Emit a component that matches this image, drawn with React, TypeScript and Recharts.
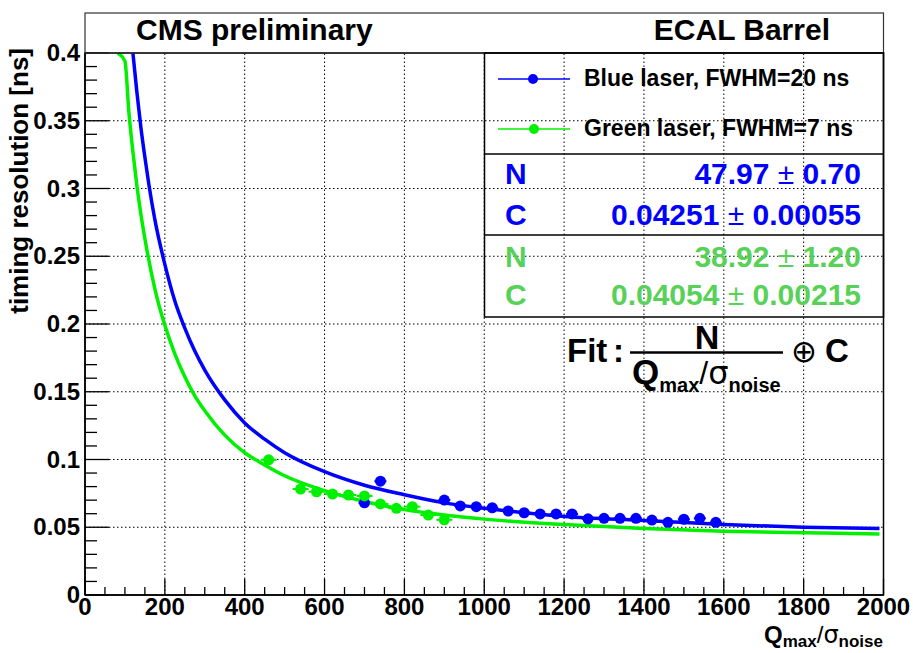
import React from 'react';
import { ComposedChart, Line, Scatter, ErrorBar, XAxis, YAxis, ReferenceLine } from 'recharts';

// measured points (Q/sigma, resolution in ns)
const blueX = [700, 740, 900, 940, 980, 1020, 1060, 1100, 1140, 1180, 1220, 1260, 1300, 1340, 1380, 1420, 1460, 1500, 1540, 1580];
const blueY = [0.068, 0.084, 0.0701, 0.0657, 0.0652, 0.0644, 0.062, 0.0607, 0.0598, 0.0598, 0.0598, 0.0562, 0.0566, 0.0566, 0.0566, 0.0553, 0.0536, 0.0559, 0.0566, 0.0536];
const greenX = [460, 540, 580, 620, 660, 700, 740, 780, 820, 860, 900];
const greenY = [0.0998, 0.0782, 0.0762, 0.0745, 0.0738, 0.0731, 0.0672, 0.064, 0.0652, 0.059, 0.0555];

// fit curves
const blueFitX = [120, 130, 140, 150, 160, 175, 200, 225, 250, 275, 300, 350, 400, 450, 500, 600, 700, 800, 900, 1000, 1200, 1400, 1600, 1800, 1990];
const blueFitY = [0.4, 0.371, 0.345, 0.323, 0.303, 0.277, 0.244, 0.217, 0.197, 0.18, 0.166, 0.144, 0.127, 0.115, 0.105, 0.091, 0.081, 0.074, 0.068, 0.064, 0.058, 0.055, 0.052, 0.05, 0.049];
const greenFitX = [82, 100, 110, 120, 130, 140, 150, 175, 200, 225, 250, 275, 300, 350, 400, 450, 500, 600, 700, 800, 900, 1000, 1200, 1400, 1600, 1800, 1990];
const greenFitY = [0.4, 0.394, 0.356, 0.327, 0.302, 0.281, 0.263, 0.226, 0.199, 0.178, 0.161, 0.147, 0.136, 0.118, 0.105, 0.096, 0.088, 0.077, 0.069, 0.063, 0.059, 0.056, 0.052, 0.049, 0.047, 0.046, 0.045];

const xMajor = [0, 200, 400, 600, 800, 1000, 1200, 1400, 1600, 1800, 2000];
const yMajor = [0, 0.05, 0.1, 0.15, 0.2, 0.25, 0.3, 0.35, 0.4];
const xTicks = Array.from({ length: 41 }, (_, i) => i * 50);
const yTicks = Array.from({ length: 41 }, (_, i) => i / 100);

const bluePts = blueX.map((x, i) => ({ x, y: blueY[i], ex: 15, ey: 0.002 }));
const greenPts = greenX.map((x, i) => ({ x, y: greenY[i], ex: 20, ey: 0.002 }));
const blueFit = blueFitX.map((x, i) => ({ x, y: blueFitY[i] }));
const greenFit = greenFitX.map((x, i) => ({ x, y: greenFitY[i] }));

const BLUE = '#0000ff';
const GREEN = '#00f000';
const GREEN_TXT = '#58d158';
const F = '"Liberation Sans", Arial, Helvetica, sans-serif';

const XTick = (props: any) => {
  const { x, y, payload } = props;
  const v = payload.value as number;
  const major = v % 200 === 0;
  return (
    <g>
      <line x1={x} y1={y} x2={x} y2={y - (major ? 16 : 8)} stroke="#000" strokeWidth={1.3} />
      {major && (
        <text x={x} y={y + 20} textAnchor="middle" fontFamily={F} fontWeight="bold" fontSize={24} fill="#000">
          {v}
        </text>
      )}
    </g>
  );
};

const YTick = (props: any) => {
  const { x, y, payload } = props;
  const v = payload.value as number;
  const major = Math.round(v * 100) % 5 === 0;
  return (
    <g>
      <line x1={x} y1={y} x2={x + (major ? 24 : 12)} y2={y} stroke="#000" strokeWidth={1.3} />
      {major && (
        <text x={x - 5} y={y + 8} textAnchor="end" fontFamily={F} fontWeight="bold" fontSize={24} fill="#000">
          {String(v)}
        </text>
      )}
    </g>
  );
};

const dot = (color: string) => (p: any) => <circle cx={p.cx} cy={p.cy} r={5.5} fill={color} />;

export default function App() {
  return (
    <div style={{ position: 'absolute', left: 0, top: 0, width: 913, height: 653, background: '#fff' }}>
      <ComposedChart width={913} height={653} margin={{ top: 53, right: 29.5, bottom: 28, left: 25 }}>
        <XAxis
          type="number"
          dataKey="x"
          domain={[0, 2000]}
          ticks={xTicks}
          interval={0}
          tick={<XTick />}
          tickLine={false}
          tickSize={0}
          tickMargin={0}
          height={30}
          axisLine={{ stroke: '#000', strokeWidth: 1.5 }}
          allowDataOverflow
        />
        <YAxis
          type="number"
          dataKey="y"
          domain={[0, 0.4]}
          ticks={yTicks}
          interval={0}
          tick={<YTick />}
          tickLine={false}
          tickSize={0}
          tickMargin={0}
          width={60}
          axisLine={{ stroke: '#000', strokeWidth: 1.5 }}
          allowDataOverflow
        />
        {xMajor.slice(1, -1).map((v) => (
          <ReferenceLine key={'gx' + v} x={v} stroke="#000" strokeDasharray="1.5 2.5" strokeWidth={1} />
        ))}
        {yMajor.slice(1, -1).map((v) => (
          <ReferenceLine key={'gy' + v} y={v} stroke="#000" strokeDasharray="1.5 2.5" strokeWidth={1} />
        ))}
        <Line data={blueFit} dataKey="y" type="monotone" stroke={BLUE} strokeWidth={3.5} dot={false} isAnimationActive={false} />
        <Scatter data={bluePts} dataKey="y" shape={dot(BLUE)} isAnimationActive={false}>
          <ErrorBar dataKey="ex" direction="x" width={0} stroke={BLUE} strokeWidth={2} />
          <ErrorBar dataKey="ey" direction="y" width={0} stroke={BLUE} strokeWidth={2} />
        </Scatter>
        <Line data={greenFit} dataKey="y" type="monotone" stroke={GREEN} strokeWidth={3.5} dot={false} isAnimationActive={false} />
        <Scatter data={greenPts} dataKey="y" shape={dot(GREEN)} isAnimationActive={false}>
          <ErrorBar dataKey="ex" direction="x" width={0} stroke={GREEN} strokeWidth={2} />
          <ErrorBar dataKey="ey" direction="y" width={0} stroke={GREEN} strokeWidth={2} />
        </Scatter>
      </ComposedChart>

      <svg width={913} height={653} style={{ position: 'absolute', left: 0, top: 0, pointerEvents: 'none' }}>
        <g fontFamily={F} fontWeight="bold">
          {/* frame and title pave */}
          <rect x={85} y={53} width={798.5} height={542} fill="none" stroke="#000" strokeWidth={1.5} />
          <rect x={85} y={13} width={798.5} height={40} fill="none" stroke="#333" strokeWidth={1.2} />
          <text x={136} y={40} fontSize={30} fill="#000">CMS preliminary</text>
          <text x={830} y={40} fontSize={30} fill="#000" textAnchor="end">ECAL Barrel</text>

          {/* axis titles */}
          <text transform="translate(28,48) rotate(-90)" textAnchor="end" fontSize={26} fill="#000">timing resolution [ns]</text>
          <text x={883} y={643} textAnchor="end" fontSize={24} fill="#000">
            Q<tspan fontSize={17} dy={4}>max</tspan>
            <tspan dy={-4} fontWeight="normal">/</tspan>
            <tspan fontWeight="normal" fontFamily="DejaVu Sans">σ</tspan>
            <tspan fontSize={17} dy={4}>noise</tspan>
          </text>

          {/* legend / stats box */}
          <rect x={484.5} y={53} width={399} height={264} fill="none" stroke="#000" strokeWidth={1.5} />
          <line x1={484.5} y1={154} x2={883.5} y2={154} stroke="#000" strokeWidth={1.5} />
          <line x1={484.5} y1={235} x2={883.5} y2={235} stroke="#000" strokeWidth={1.5} />
          <line x1={498} y1={79} x2={570} y2={79} stroke={BLUE} strokeWidth={1.5} />
          <circle cx={533} cy={79} r={5} fill={BLUE} />
          <text x={584} y={86} fontSize={23} fill="#000">Blue laser, FWHM=20 ns</text>
          <line x1={498} y1={129} x2={570} y2={129} stroke={GREEN} strokeWidth={1.5} />
          <circle cx={534} cy={129} r={5} fill={GREEN} />
          <text x={584} y={136} fontSize={23} fill="#000">Green laser, FWHM=7 ns</text>

          <text x={505} y={184} fontSize={30} fill={BLUE}>N</text>
          <text x={861} y={184} fontSize={30} fill={BLUE} textAnchor="end">
            47.97 <tspan fontWeight="normal">±</tspan> 0.70
          </text>
          <text x={505} y={225} fontSize={30} fill={BLUE}>C</text>
          <text x={861} y={225} fontSize={30} fill={BLUE} textAnchor="end">
            0.04251 <tspan fontWeight="normal">±</tspan> 0.00055
          </text>
          <text x={505} y={267} fontSize={30} fill={GREEN_TXT}>N</text>
          <text x={861} y={267} fontSize={30} fill={GREEN_TXT} textAnchor="end">
            38.92 <tspan fontWeight="normal">±</tspan> 1.20
          </text>
          <text x={505} y={305} fontSize={30} fill={GREEN_TXT}>C</text>
          <text x={861} y={305} fontSize={30} fill={GREEN_TXT} textAnchor="end">
            0.04054 <tspan fontWeight="normal">±</tspan> 0.00215
          </text>

          {/* fit formula */}
          <text x={567} y={362} fontSize={33} fill="#000">Fit</text>
          <text x={613} y={362} fontSize={33} fill="#000">:</text>
          <text x={707} y={349} fontSize={34} fill="#000" textAnchor="middle">N</text>
          <line x1={630} y1={352.5} x2={783} y2={352.5} stroke="#000" strokeWidth={2.5} />
          <text x={632} y={384} fontSize={35} fill="#000">
            Q<tspan fontSize={20} dy={8}>max</tspan>
            <tspan dy={-8} fontSize={32} fontWeight="normal">/</tspan>
            <tspan fontSize={32} fontWeight="normal" fontFamily="DejaVu Sans">σ</tspan>
            <tspan fontSize={20} dy={8}>noise</tspan>
          </text>
          <text x={804} y={362} fontSize={31} fontWeight="normal" fontFamily="DejaVu Sans" textAnchor="middle" fill="#000">⊕</text>
          <text x={825} y={362} fontSize={33} fill="#000">C</text>
        </g>
      </svg>
    </div>
  );
}
